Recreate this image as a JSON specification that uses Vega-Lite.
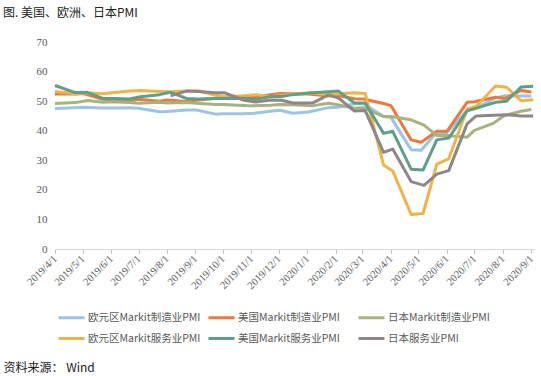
{
  "$schema": "https://vega.github.io/schema/vega-lite/v6.json",
  "width": 480,
  "height": 207,
  "autosize": {"type": "none"},
  "padding": {"left": 55, "top": 42, "right": 6, "bottom": 127},
  "background": "white",
  "title": {
    "text": "图. 美国、欧洲、日本PMI",
    "anchor": "start",
    "frame": "group",
    "dx": -52,
    "offset": 16,
    "font": "Noto Sans CJK SC",
    "fontSize": 12,
    "fontWeight": "normal",
    "color": "#222222"
  },
  "datasets": {
    "pmi": [
      {"s": "欧元区Markit制造业PMI", "d": "2019/04/01", "v": 47.5},
      {"s": "欧元区Markit制造业PMI", "d": "2019/04/23", "v": 47.8},
      {"s": "欧元区Markit制造业PMI", "d": "2019/05/02", "v": 47.9},
      {"s": "欧元区Markit制造业PMI", "d": "2019/05/23", "v": 47.7},
      {"s": "欧元区Markit制造业PMI", "d": "2019/06/03", "v": 47.7},
      {"s": "欧元区Markit制造业PMI", "d": "2019/06/21", "v": 47.8},
      {"s": "欧元区Markit制造业PMI", "d": "2019/07/01", "v": 47.6},
      {"s": "欧元区Markit制造业PMI", "d": "2019/07/24", "v": 46.4},
      {"s": "欧元区Markit制造业PMI", "d": "2019/08/01", "v": 46.5},
      {"s": "欧元区Markit制造业PMI", "d": "2019/08/22", "v": 47.0},
      {"s": "欧元区Markit制造业PMI", "d": "2019/09/02", "v": 47.0},
      {"s": "欧元区Markit制造业PMI", "d": "2019/09/23", "v": 45.6},
      {"s": "欧元区Markit制造业PMI", "d": "2019/10/01", "v": 45.7},
      {"s": "欧元区Markit制造业PMI", "d": "2019/10/24", "v": 45.7},
      {"s": "欧元区Markit制造业PMI", "d": "2019/11/04", "v": 45.9},
      {"s": "欧元区Markit制造业PMI", "d": "2019/11/22", "v": 46.6},
      {"s": "欧元区Markit制造业PMI", "d": "2019/12/02", "v": 46.9},
      {"s": "欧元区Markit制造业PMI", "d": "2019/12/16", "v": 45.9},
      {"s": "欧元区Markit制造业PMI", "d": "2020/01/02", "v": 46.3},
      {"s": "欧元区Markit制造业PMI", "d": "2020/01/24", "v": 47.8},
      {"s": "欧元区Markit制造业PMI", "d": "2020/02/03", "v": 47.9},
      {"s": "欧元区Markit制造业PMI", "d": "2020/02/21", "v": 49.1},
      {"s": "欧元区Markit制造业PMI", "d": "2020/03/02", "v": 49.2},
      {"s": "欧元区Markit制造业PMI", "d": "2020/03/24", "v": 44.8},
      {"s": "欧元区Markit制造业PMI", "d": "2020/04/01", "v": 44.5},
      {"s": "欧元区Markit制造业PMI", "d": "2020/04/23", "v": 33.6},
      {"s": "欧元区Markit制造业PMI", "d": "2020/05/04", "v": 33.4},
      {"s": "欧元区Markit制造业PMI", "d": "2020/05/21", "v": 39.5},
      {"s": "欧元区Markit制造业PMI", "d": "2020/06/01", "v": 39.4},
      {"s": "欧元区Markit制造业PMI", "d": "2020/06/23", "v": 46.9},
      {"s": "欧元区Markit制造业PMI", "d": "2020/07/01", "v": 47.4},
      {"s": "欧元区Markit制造业PMI", "d": "2020/07/24", "v": 51.1},
      {"s": "欧元区Markit制造业PMI", "d": "2020/08/03", "v": 51.8},
      {"s": "欧元区Markit制造业PMI", "d": "2020/08/21", "v": 51.7},
      {"s": "欧元区Markit制造业PMI", "d": "2020/09/01", "v": 51.7},

      {"s": "美国Markit制造业PMI", "d": "2019/04/01", "v": 52.4},
      {"s": "美国Markit制造业PMI", "d": "2019/04/23", "v": 52.4},
      {"s": "美国Markit制造业PMI", "d": "2019/05/02", "v": 52.6},
      {"s": "美国Markit制造业PMI", "d": "2019/05/23", "v": 50.6},
      {"s": "美国Markit制造业PMI", "d": "2019/06/03", "v": 50.5},
      {"s": "美国Markit制造业PMI", "d": "2019/06/21", "v": 50.1},
      {"s": "美国Markit制造业PMI", "d": "2019/07/01", "v": 50.6},
      {"s": "美国Markit制造业PMI", "d": "2019/07/24", "v": 50.0},
      {"s": "美国Markit制造业PMI", "d": "2019/08/01", "v": 50.4},
      {"s": "美国Markit制造业PMI", "d": "2019/08/22", "v": 49.9},
      {"s": "美国Markit制造业PMI", "d": "2019/09/02", "v": 50.3},
      {"s": "美国Markit制造业PMI", "d": "2019/09/23", "v": 51.0},
      {"s": "美国Markit制造业PMI", "d": "2019/10/01", "v": 51.1},
      {"s": "美国Markit制造业PMI", "d": "2019/10/24", "v": 51.5},
      {"s": "美国Markit制造业PMI", "d": "2019/11/04", "v": 51.3},
      {"s": "美国Markit制造业PMI", "d": "2019/11/22", "v": 52.2},
      {"s": "美国Markit制造业PMI", "d": "2019/12/02", "v": 52.6},
      {"s": "美国Markit制造业PMI", "d": "2019/12/16", "v": 52.5},
      {"s": "美国Markit制造业PMI", "d": "2020/01/02", "v": 52.4},
      {"s": "美国Markit制造业PMI", "d": "2020/01/24", "v": 51.7},
      {"s": "美国Markit制造业PMI", "d": "2020/02/03", "v": 51.9},
      {"s": "美国Markit制造业PMI", "d": "2020/02/21", "v": 50.8},
      {"s": "美国Markit制造业PMI", "d": "2020/03/02", "v": 50.7},
      {"s": "美国Markit制造业PMI", "d": "2020/03/24", "v": 49.2},
      {"s": "美国Markit制造业PMI", "d": "2020/04/01", "v": 48.5},
      {"s": "美国Markit制造业PMI", "d": "2020/04/23", "v": 36.9},
      {"s": "美国Markit制造业PMI", "d": "2020/05/04", "v": 36.1},
      {"s": "美国Markit制造业PMI", "d": "2020/05/21", "v": 39.8},
      {"s": "美国Markit制造业PMI", "d": "2020/06/01", "v": 39.8},
      {"s": "美国Markit制造业PMI", "d": "2020/06/23", "v": 49.6},
      {"s": "美国Markit制造业PMI", "d": "2020/07/01", "v": 49.8},
      {"s": "美国Markit制造业PMI", "d": "2020/07/24", "v": 51.3},
      {"s": "美国Markit制造业PMI", "d": "2020/08/03", "v": 50.9},
      {"s": "美国Markit制造业PMI", "d": "2020/08/21", "v": 53.6},
      {"s": "美国Markit制造业PMI", "d": "2020/09/01", "v": 53.1},

      {"s": "日本Markit制造业PMI", "d": "2019/04/01", "v": 49.2},
      {"s": "日本Markit制造业PMI", "d": "2019/04/23", "v": 49.5},
      {"s": "日本Markit制造业PMI", "d": "2019/05/07", "v": 50.2},
      {"s": "日本Markit制造业PMI", "d": "2019/05/23", "v": 49.6},
      {"s": "日本Markit制造业PMI", "d": "2019/06/03", "v": 49.8},
      {"s": "日本Markit制造业PMI", "d": "2019/06/21", "v": 49.5},
      {"s": "日本Markit制造业PMI", "d": "2019/07/01", "v": 49.3},
      {"s": "日本Markit制造业PMI", "d": "2019/07/24", "v": 49.6},
      {"s": "日本Markit制造业PMI", "d": "2019/08/01", "v": 49.4},
      {"s": "日本Markit制造业PMI", "d": "2019/08/22", "v": 49.5},
      {"s": "日本Markit制造业PMI", "d": "2019/09/02", "v": 49.3},
      {"s": "日本Markit制造业PMI", "d": "2019/09/23", "v": 48.9},
      {"s": "日本Markit制造业PMI", "d": "2019/10/01", "v": 48.9},
      {"s": "日本Markit制造业PMI", "d": "2019/10/24", "v": 48.5},
      {"s": "日本Markit制造业PMI", "d": "2019/11/01", "v": 48.4},
      {"s": "日本Markit制造业PMI", "d": "2019/11/22", "v": 48.6},
      {"s": "日本Markit制造业PMI", "d": "2019/12/02", "v": 48.9},
      {"s": "日本Markit制造业PMI", "d": "2019/12/16", "v": 48.8},
      {"s": "日本Markit制造业PMI", "d": "2020/01/06", "v": 48.4},
      {"s": "日本Markit制造业PMI", "d": "2020/01/24", "v": 49.3},
      {"s": "日本Markit制造业PMI", "d": "2020/02/03", "v": 48.8},
      {"s": "日本Markit制造业PMI", "d": "2020/02/21", "v": 47.6},
      {"s": "日本Markit制造业PMI", "d": "2020/03/02", "v": 47.8},
      {"s": "日本Markit制造业PMI", "d": "2020/03/24", "v": 44.8},
      {"s": "日本Markit制造业PMI", "d": "2020/04/01", "v": 44.8},
      {"s": "日本Markit制造业PMI", "d": "2020/04/23", "v": 43.7},
      {"s": "日本Markit制造业PMI", "d": "2020/05/07", "v": 41.9},
      {"s": "日本Markit制造业PMI", "d": "2020/05/21", "v": 38.4},
      {"s": "日本Markit制造业PMI", "d": "2020/06/01", "v": 38.4},
      {"s": "日本Markit制造业PMI", "d": "2020/06/23", "v": 37.8},
      {"s": "日本Markit制造业PMI", "d": "2020/07/01", "v": 40.1},
      {"s": "日本Markit制造业PMI", "d": "2020/07/22", "v": 42.6},
      {"s": "日本Markit制造业PMI", "d": "2020/08/03", "v": 45.2},
      {"s": "日本Markit制造业PMI", "d": "2020/08/21", "v": 46.6},
      {"s": "日本Markit制造业PMI", "d": "2020/09/01", "v": 47.2},

      {"s": "欧元区Markit服务业PMI", "d": "2019/04/01", "v": 53.3},
      {"s": "欧元区Markit服务业PMI", "d": "2019/04/23", "v": 52.5},
      {"s": "欧元区Markit服务业PMI", "d": "2019/05/06", "v": 52.8},
      {"s": "欧元区Markit服务业PMI", "d": "2019/05/23", "v": 52.5},
      {"s": "欧元区Markit服务业PMI", "d": "2019/06/05", "v": 52.9},
      {"s": "欧元区Markit服务业PMI", "d": "2019/06/21", "v": 53.4},
      {"s": "欧元区Markit服务业PMI", "d": "2019/07/03", "v": 53.6},
      {"s": "欧元区Markit服务业PMI", "d": "2019/07/24", "v": 53.3},
      {"s": "欧元区Markit服务业PMI", "d": "2019/08/05", "v": 53.2},
      {"s": "欧元区Markit服务业PMI", "d": "2019/08/22", "v": 53.4},
      {"s": "欧元区Markit服务业PMI", "d": "2019/09/04", "v": 53.5},
      {"s": "欧元区Markit服务业PMI", "d": "2019/09/23", "v": 52.0},
      {"s": "欧元区Markit服务业PMI", "d": "2019/10/03", "v": 51.6},
      {"s": "欧元区Markit服务业PMI", "d": "2019/10/24", "v": 51.8},
      {"s": "欧元区Markit服务业PMI", "d": "2019/11/06", "v": 52.2},
      {"s": "欧元区Markit服务业PMI", "d": "2019/11/22", "v": 51.5},
      {"s": "欧元区Markit服务业PMI", "d": "2019/12/04", "v": 51.9},
      {"s": "欧元区Markit服务业PMI", "d": "2019/12/16", "v": 52.4},
      {"s": "欧元区Markit服务业PMI", "d": "2020/01/06", "v": 52.8},
      {"s": "欧元区Markit服务业PMI", "d": "2020/01/24", "v": 52.2},
      {"s": "欧元区Markit服务业PMI", "d": "2020/02/04", "v": 52.5},
      {"s": "欧元区Markit服务业PMI", "d": "2020/02/21", "v": 52.8},
      {"s": "欧元区Markit服务业PMI", "d": "2020/03/04", "v": 52.6},
      {"s": "欧元区Markit服务业PMI", "d": "2020/03/24", "v": 28.4},
      {"s": "欧元区Markit服务业PMI", "d": "2020/04/03", "v": 26.4},
      {"s": "欧元区Markit服务业PMI", "d": "2020/04/23", "v": 11.7},
      {"s": "欧元区Markit服务业PMI", "d": "2020/05/06", "v": 12.0},
      {"s": "欧元区Markit服务业PMI", "d": "2020/05/21", "v": 28.7},
      {"s": "欧元区Markit服务业PMI", "d": "2020/06/03", "v": 30.5},
      {"s": "欧元区Markit服务业PMI", "d": "2020/06/23", "v": 47.3},
      {"s": "欧元区Markit服务业PMI", "d": "2020/07/03", "v": 48.3},
      {"s": "欧元区Markit服务业PMI", "d": "2020/07/24", "v": 55.1},
      {"s": "欧元区Markit服务业PMI", "d": "2020/08/05", "v": 54.7},
      {"s": "欧元区Markit服务业PMI", "d": "2020/08/21", "v": 50.1},
      {"s": "欧元区Markit服务业PMI", "d": "2020/09/03", "v": 50.5},

      {"s": "美国Markit服务业PMI", "d": "2019/04/01", "v": 55.3},
      {"s": "美国Markit服务业PMI", "d": "2019/04/23", "v": 52.9},
      {"s": "美国Markit服务业PMI", "d": "2019/05/06", "v": 53.0},
      {"s": "美国Markit服务业PMI", "d": "2019/05/23", "v": 50.9},
      {"s": "美国Markit服务业PMI", "d": "2019/06/05", "v": 50.9},
      {"s": "美国Markit服务业PMI", "d": "2019/06/21", "v": 50.7},
      {"s": "美国Markit服务业PMI", "d": "2019/07/03", "v": 51.5},
      {"s": "美国Markit服务业PMI", "d": "2019/07/24", "v": 52.2},
      {"s": "美国Markit服务业PMI", "d": "2019/08/05", "v": 53.0},
      {"s": "美国Markit服务业PMI", "d": "2019/08/22", "v": 50.9},
      {"s": "美国Markit服务业PMI", "d": "2019/09/04", "v": 50.7},
      {"s": "美国Markit服务业PMI", "d": "2019/09/23", "v": 50.9},
      {"s": "美国Markit服务业PMI", "d": "2019/10/03", "v": 50.9},
      {"s": "美国Markit服务业PMI", "d": "2019/10/24", "v": 51.0},
      {"s": "美国Markit服务业PMI", "d": "2019/11/06", "v": 50.6},
      {"s": "美国Markit服务业PMI", "d": "2019/11/22", "v": 51.6},
      {"s": "美国Markit服务业PMI", "d": "2019/12/04", "v": 51.6},
      {"s": "美国Markit服务业PMI", "d": "2019/12/16", "v": 52.2},
      {"s": "美国Markit服务业PMI", "d": "2020/01/06", "v": 52.8},
      {"s": "美国Markit服务业PMI", "d": "2020/01/24", "v": 53.2},
      {"s": "美国Markit服务业PMI", "d": "2020/02/04", "v": 53.4},
      {"s": "美国Markit服务业PMI", "d": "2020/02/21", "v": 49.4},
      {"s": "美国Markit服务业PMI", "d": "2020/03/04", "v": 49.4},
      {"s": "美国Markit服务业PMI", "d": "2020/03/24", "v": 39.1},
      {"s": "美国Markit服务业PMI", "d": "2020/04/03", "v": 39.8},
      {"s": "美国Markit服务业PMI", "d": "2020/04/23", "v": 27.0},
      {"s": "美国Markit服务业PMI", "d": "2020/05/06", "v": 26.7},
      {"s": "美国Markit服务业PMI", "d": "2020/05/21", "v": 36.9},
      {"s": "美国Markit服务业PMI", "d": "2020/06/03", "v": 37.5},
      {"s": "美国Markit服务业PMI", "d": "2020/06/23", "v": 46.7},
      {"s": "美国Markit服务业PMI", "d": "2020/07/06", "v": 47.9},
      {"s": "美国Markit服务业PMI", "d": "2020/07/24", "v": 49.6},
      {"s": "美国Markit服务业PMI", "d": "2020/08/05", "v": 50.0},
      {"s": "美国Markit服务业PMI", "d": "2020/08/21", "v": 54.8},
      {"s": "美国Markit服务业PMI", "d": "2020/09/03", "v": 55.0},

      {"s": "日本服务业PMI", "d": "2019/08/05", "v": 51.8},
      {"s": "日本服务业PMI", "d": "2019/08/22", "v": 53.4},
      {"s": "日本服务业PMI", "d": "2019/09/04", "v": 53.3},
      {"s": "日本服务业PMI", "d": "2019/09/23", "v": 52.8},
      {"s": "日本服务业PMI", "d": "2019/10/03", "v": 52.8},
      {"s": "日本服务业PMI", "d": "2019/10/24", "v": 50.3},
      {"s": "日本服务业PMI", "d": "2019/11/06", "v": 49.7},
      {"s": "日本服务业PMI", "d": "2019/11/22", "v": 50.4},
      {"s": "日本服务业PMI", "d": "2019/12/04", "v": 50.3},
      {"s": "日本服务业PMI", "d": "2019/12/16", "v": 49.4},
      {"s": "日本服务业PMI", "d": "2020/01/07", "v": 49.4},
      {"s": "日本服务业PMI", "d": "2020/01/24", "v": 52.1},
      {"s": "日本服务业PMI", "d": "2020/02/04", "v": 51.0},
      {"s": "日本服务业PMI", "d": "2020/02/21", "v": 46.7},
      {"s": "日本服务业PMI", "d": "2020/03/04", "v": 46.8},
      {"s": "日本服务业PMI", "d": "2020/03/24", "v": 32.7},
      {"s": "日本服务业PMI", "d": "2020/04/03", "v": 33.8},
      {"s": "日本服务业PMI", "d": "2020/04/23", "v": 22.8},
      {"s": "日本服务业PMI", "d": "2020/05/07", "v": 21.5},
      {"s": "日本服务业PMI", "d": "2020/05/21", "v": 25.3},
      {"s": "日本服务业PMI", "d": "2020/06/03", "v": 26.5},
      {"s": "日本服务业PMI", "d": "2020/06/23", "v": 42.3},
      {"s": "日本服务业PMI", "d": "2020/07/03", "v": 45.0},
      {"s": "日本服务业PMI", "d": "2020/07/22", "v": 45.2},
      {"s": "日本服务业PMI", "d": "2020/08/05", "v": 45.4},
      {"s": "日本服务业PMI", "d": "2020/08/21", "v": 45.0},
      {"s": "日本服务业PMI", "d": "2020/09/03", "v": 45.0}
    ]
  },
  "data": {"name": "pmi"},
  "mark": {"type": "line", "strokeWidth": 3, "strokeJoin": "round", "interpolate": "linear"},
  "encoding": {
    "x": {
      "field": "d",
      "type": "temporal",
      "scale": {"domain": [{"year": 2019, "month": 4, "date": 1}, {"year": 2020, "month": 9, "date": 5}]},
      "axis": {
        "values": [
          {"year": 2019, "month": 4, "date": 1}, {"year": 2019, "month": 5, "date": 1},
          {"year": 2019, "month": 6, "date": 1}, {"year": 2019, "month": 7, "date": 1},
          {"year": 2019, "month": 8, "date": 1}, {"year": 2019, "month": 9, "date": 1},
          {"year": 2019, "month": 10, "date": 1}, {"year": 2019, "month": 11, "date": 1},
          {"year": 2019, "month": 12, "date": 1}, {"year": 2020, "month": 1, "date": 1},
          {"year": 2020, "month": 2, "date": 1}, {"year": 2020, "month": 3, "date": 1},
          {"year": 2020, "month": 4, "date": 1}, {"year": 2020, "month": 5, "date": 1},
          {"year": 2020, "month": 6, "date": 1}, {"year": 2020, "month": 7, "date": 1},
          {"year": 2020, "month": 8, "date": 1}, {"year": 2020, "month": 9, "date": 1}
        ],
        "format": "%Y/%-m/%-d",
        "labelAngle": -45,
        "labelAlign": "right",
        "labelBaseline": "middle",
        "labelPadding": 4,
        "labelFont": "Liberation Serif",
        "labelFontSize": 10.5,
        "labelColor": "#595959",
        "labelOverlap": false,
        "labelFlush": false,
        "domainColor": "#D9D9D9",
        "tickColor": "#BFBFBF",
        "tickSize": 4,
        "grid": false,
        "title": "资料来源： Wind",
        "titleX": -52,
        "titleY": 118,
        "titleAlign": "left",
        "titleBaseline": "middle",
        "titleFont": "Noto Sans CJK SC",
        "titleFontSize": 12,
        "titleFontWeight": "normal",
        "titleColor": "#222222"
      }
    },
    "y": {
      "field": "v",
      "type": "quantitative",
      "scale": {"domain": [0, 70]},
      "axis": {
        "values": [0, 10, 20, 30, 40, 50, 60, 70],
        "grid": false,
        "domain": false,
        "ticks": false,
        "labelPadding": 8,
        "labelFont": "Liberation Serif",
        "labelFontSize": 11,
        "labelColor": "#595959",
        "title": null
      }
    },
    "color": {
      "field": "s",
      "type": "nominal",
      "scale": {
        "domain": ["欧元区Markit制造业PMI", "欧元区Markit服务业PMI", "美国Markit制造业PMI", "美国Markit服务业PMI", "日本Markit制造业PMI", "日本服务业PMI"],
        "range": ["#9DC3E6", "#EDB548", "#EB7A3C", "#5E9F8C", "#A7B37F", "#8E8688"]
      },
      "legend": {
        "title": null,
        "orient": "none",
        "legendX": 2,
        "legendY": 261,
        "columns": 3,
        "gridAlign": "all",
        "columnPadding": 1,
        "rowPadding": -6,
        "symbolType": "stroke",
        "symbolSize": 676,
        "symbolStrokeWidth": 3,
        "labelOffset": 2,
        "labelFont": "Noto Sans CJK SC",
        "labelFontSize": 10.5,
        "labelColor": "#595959",
        "labelLimit": 200
      }
    }
  },
  "config": {"view": {"stroke": null}}
}
